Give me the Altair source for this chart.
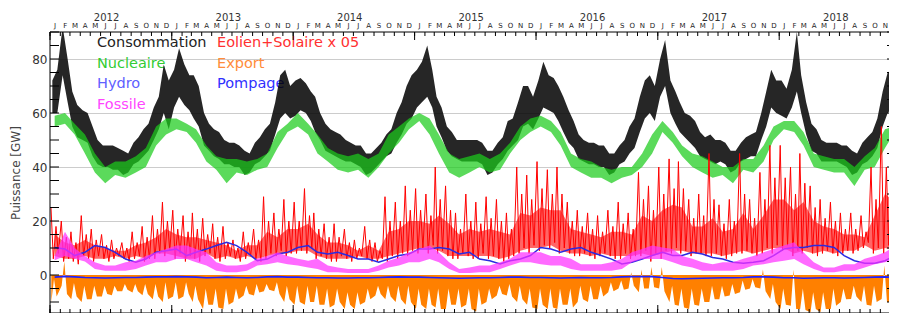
import altair as alt
import pandas as pd

# ---------------- data (GW) ----------------
# Consommation: half-month weekday highs / weekend lows (2012-01 .. 2018-12)
cons_hi = [72,76, 92,80, 68,63, 61,60, 55,50, 48,48, 48,47, 46,45, 49,51, 54,56, 62,66, 78,72,
           76,84, 78,74, 74,70, 60,56, 54,53, 50,49, 49,48, 46,45, 49,51, 54,56, 64,74, 76,70,
           72,73, 71,68, 66,60, 56,54, 53,52, 50,49, 48,48, 45,45, 47,49, 52,54, 60,64, 70,74,
           76,79, 85,76, 66,62, 55,53, 50,50, 50,50, 50,49, 46,46, 49,51, 57,58, 64,70, 70,66,
           72,79, 74,73, 70,66, 61,57, 52,50, 49,49, 48,48, 45,45, 48,50, 55,58, 66,72, 74,70,
           80,87, 72,68, 64,60, 59,57, 53,51, 52,50, 50,49, 46,46, 49,51, 52,53, 60,68, 76,72,
           72,69, 76,90, 74,64, 56,54, 50,49, 49,49, 48,48, 46,45, 49,51, 53,58, 68,75, 76,74]
cons_lo = [60,60, 74,64, 55,51, 50,49, 44,41, 40,40, 39,39, 37,38, 41,42, 44,46, 50,54, 60,54,
           62,66, 63,61, 58,55, 48,46, 44,43, 41,41, 40,40, 37,38, 41,42, 44,46, 52,58, 60,58,
           59,61, 60,57, 53,50, 46,45, 44,43, 42,42, 41,40, 37,38, 40,42, 44,45, 49,52, 56,58,
           62,64, 66,62, 55,51, 46,44, 43,42, 42,42, 42,41, 37,38, 41,43, 46,48, 50,55, 56,54,
           58,62, 61,60, 57,53, 49,47, 43,42, 41,41, 40,40, 37,38, 41,42, 45,47, 53,58, 60,57,
           66,70, 60,56, 53,51, 49,47, 44,43, 42,41, 42,41, 38,39, 42,43, 44,44, 50,55, 62,60,
           59,58, 62,68, 60,52, 46,45, 42,42, 42,42, 41,40, 37,38, 41,42, 44,47, 55,60, 62,62]

# Nucleaire: monthly band
nuc_hi = [59,60,56,52,45,40,42,42,44,47,55,58,
          58,56,54,48,44,43,43,42,43,45,53,56,
          60,56,52,47,45,44,45,43,45,52,55,58,
          60,58,52,45,43,44,45,43,45,49,55,58,
          59,57,53,45,43,42,40,39,40,40,45,52,
          57,53,48,45,44,42,40,40,43,43,48,55,
          57,57,53,45,44,43,43,40,44,47,54,55]
nuc_lo = [55,56,52,45,38,34,37,36,38,40,48,52,
          54,53,49,42,39,34,38,37,39,40,47,53,
          55,52,45,42,39,38,39,36,40,45,49,54,
          57,52,45,38,36,38,40,38,39,45,50,53,
          55,53,48,40,38,36,36,34,36,37,40,45,
          53,49,44,40,38,36,37,34,39,38,42,50,
          54,53,48,40,39,38,38,33,39,40,47,53]

# Eolien+Solaire x 0.5: per month two peaks and two troughs
eol_pk_a = [25,20,16,22,17,15,13,12,16,18,22,27,
            24,22,23,21,19,18,13,16,17,29,23,28,
            27,32,23,19,19,17,13,18,12,29,27,33,
            32,30,40,33,23,30,27,29,28,23,40,37,
            42,39,40,27,24,23,22,24,27,23,38,33,
            40,43,42,28,30,45,26,28,45,28,38,48,
            48,40,45,33,28,27,23,23,22,40,55,45]
eol_pk_b = [18,14,12,15,13,11,10,10,12,14,17,20,
            17,16,17,15,14,12,10,12,13,20,17,20,
            20,22,17,14,14,12,10,13,9,20,20,24,
            24,22,28,24,17,20,19,21,20,17,30,28,
            32,30,30,20,18,17,16,18,19,17,28,24,
            30,32,32,21,22,28,19,20,30,21,28,36,
            36,30,34,25,21,20,17,17,16,28,40,35]
eol_lo_a = [6,5,5,7,5,6,6,6,6,5,6,7,
            6,5,6,7,6,6,6,6,6,6,7,7,
            8,8,6,6,5,6,6,6,5,5,6,7,
            8,8,8,7,6,7,6,6,6,6,8,8,
            9,10,8,8,7,7,7,7,6,6,7,5,
            6,8,8,7,8,7,7,7,8,8,8,8,
            9,7,8,8,8,8,8,8,10,8,8,8]
eol_lo_b = [8,6,4,6,7,5,7,5,7,6,8,9,
            8,7,5,8,5,7,5,7,5,8,9,8,
            9,10,7,5,7,5,7,5,6,7,8,9,
            10,11,9,6,8,6,8,7,5,7,10,11,
            11,12,10,7,8,6,8,6,8,7,9,8,
            9,10,9,8,7,8,6,8,9,7,10,11,
            11,9,10,7,9,7,9,9,12,10,11,10]
# typical (dense) red range per month: lower / upper
eol_band_lo = [7,6,6,7,6,6,7,6,7,6,8,8,
               7,6,6,8,6,7,6,7,6,7,8,8,
               9,9,7,6,6,6,7,6,6,7,8,9,
               10,10,9,7,7,7,7,7,6,7,9,10,
               10,11,9,8,8,7,8,7,7,7,8,7,
               8,9,9,8,8,8,7,8,9,8,9,10,
               10,8,9,8,9,8,9,9,11,9,10,9]
eol_band_hi = [15,12,11,13,11,10,9,9,11,12,14,17,
               15,14,14,13,12,11,9,11,11,16,14,17,
               17,19,15,12,12,11,9,11,9,16,17,20,
               20,19,22,19,15,17,16,17,16,15,23,22,
               25,24,24,17,16,15,14,16,16,15,22,20,
               24,26,25,18,18,21,16,17,23,17,22,28,
               28,24,27,20,18,17,15,15,14,22,30,27]

# Hydro: monthly
hydro = [10.2,9.6,7.2,8.4,10.9,10.2,8.4,5.9,4.7,5.9,8.4,9.0,
         9.6,7.2,8.4,9.6,10.9,12.1,10.9,8.4,5.3,5.9,7.8,8.4,
         10.2,10.9,8.4,7.8,8.4,7.2,5.9,5.9,4.7,5.9,7.2,7.8,
         9.6,9.6,10.2,9.6,7.8,8.4,5.9,5.3,4.1,5.3,5.9,7.2,
         10.2,9.6,8.4,9.6,10.2,8.4,7.2,5.9,4.1,4.7,5.9,7.2,
         8.4,7.2,7.2,8.4,7.8,6.5,5.9,4.7,4.4,4.7,5.3,7.2,
         9.6,10.2,10.2,10.9,10.9,10.2,7.2,5.3,4.4,4.4,5.3,7.2]

# Fossile: monthly band
fos_hi = [7,16,10,7,4.7,3.5,3.5,4.7,5.3,7,8.4,9.6,
          10.9,10.9,9.6,8.4,4.7,3.5,3.5,4,6,7,8.4,7,
          6,5.3,6,3.5,2.8,2.2,2.2,2.2,3.5,5.3,6.5,8.4,
          9.6,10.9,8.4,4.7,2.2,2.8,3.5,3.5,4.7,6,8.4,8.4,
          8.4,7,7,6,4,4,4,4.7,6,8.4,9.6,10.9,
          10.2,9.6,7,6,4.7,4,4.7,4.7,6,7,8.4,9.6,
          10.9,12.1,8.4,4.7,2.8,2.8,4,4,6,7,8.4,10.9]
fos_lo = [5.5,7,6,5,2.2,1.6,1.6,1.6,2.2,3.5,4.7,4.7,
          5.9,5.9,4.7,3.5,1.6,1,1,1.6,3.5,4,4.7,4,
          3.5,2.8,2.2,1,1,0.7,0.7,0.7,1.6,2.8,3.5,4.7,
          4.7,5.9,4.7,2.2,0.7,0.7,1,1,2.2,3.5,4.7,4.7,
          4,3.5,3.5,2.2,1.6,1.6,1.6,1.6,2.2,4.7,5.9,5.9,
          5.9,4.7,3.5,2.8,1.6,1.6,1.6,1.6,2.2,3.5,4,4.7,
          5.3,5.9,4,2.2,1,1,1.6,1.6,2.8,4,4.7,5.9]

# Pompage: monthly (negative)
pompage = [-0.8,-0.5,-0.7,-0.9,-1.0,-1.1,-1.0,-0.9,-0.9,-0.8,-0.7,-0.7,
           -0.6,-0.7,-0.8,-1.0,-0.9,-0.8,-0.9,-1.0,-0.9,-0.7,-0.6,-0.8,
           -0.8,-0.9,-1.0,-1.0,-1.1,-1.1,-1.0,-1.0,-0.9,-0.8,-0.7,-0.8,
           -0.8,-0.9,-1.0,-1.1,-1.2,-1.1,-1.0,-1.0,-0.9,-0.8,-0.8,-0.9,
           -0.9,-1.0,-1.1,-1.0,-0.9,-1.0,-1.0,-0.9,-0.7,-0.6,-0.6,-0.6,
           -0.9,-1.3,-1.4,-1.3,-1.2,-1.1,-1.0,-1.0,-0.9,-0.7,-0.7,-0.8,
           -1.0,-1.0,-1.2,-1.1,-1.0,-1.0,-1.1,-1.0,-0.9,-0.8,-0.7,-0.9]

# Export (negative = net export): per month deepest values in each half and shallowest value
exp_a = [-10,-4,-9,-10,-9,-8,-7.5,-6,-6.5,-7.5,-9,-10,
         -8,-8,-10,-12.6,-11,-12.6,-10,-7.6,-7.6,-6,-6,-10,
         -11,-11,-10,-11,-11,-12.6,-12.6,-10,-7.6,-9,-10,-11,
         -12.6,-12.6,-12,-12.6,-11,-11,-13.5,-10,-7.6,-7.6,-10,-11,
         -12.6,-12.6,-12.6,-11,-10,-10,-9,-6.4,-5,-5,-6.4,-5,
         -5,-10,-11.4,-12.6,-11.4,-10,-9,-7.6,-6.4,-5,-5,-8.9,
         -12.6,-11.4,-12.6,-13.8,-13.8,-12.6,-10,-8.9,-10,-11.4,-8.9,-10]
exp_b = [-8,-7,-8,-9,-8,-7,-6,-5.5,-6,-7,-8,-9,
         -9,-7,-9,-11,-12,-11,-9,-7,-6.5,-5.5,-7,-9,
         -10,-10,-11,-12,-10,-11,-11,-9,-7,-8,-9,-10,
         -11,-11,-12.6,-11,-12,-12.6,-11,-9,-7,-8,-9,-12,
         -11,-12,-11,-12,-9,-9,-8,-6,-5.5,-4,-5,-4.5,
         -6,-11,-12,-11,-10,-9,-8,-7,-5.5,-4.5,-6,-10,
         -11,-12.6,-13,-12.6,-12.6,-11.4,-9,-8,-11,-10,-10,-9]
exp_top = [-1.5,5,-3,-4,-4,-4,-4,-3.3,-3.3,-3.3,-3.3,-2.7,
           -2.7,-2.7,-4,-5,-5,-5,-5,-4,-3.3,-3.3,-2.7,-4,
           -4,-4,-4,-5,-5,-6.4,-6.4,-5,-4,-4,-4,-4,
           -5,-5,-5,-5,-5,-5,-5,-5,-4,-3.3,-4,-5,
           -5,-5,-5,-5,-4,-4,-4,-2.7,-2,1,2,3,
           3,-4,-5,-5,-5,-4,-4,-3.3,-2,-1.5,2,-3.3,
           -5,2,-5,-6.4,-6.4,-5,-5,-4,-4,-4,3.5,-3]

# axis text
month_letters = ["J", "F", "M", "A", "M", "J", "J", "A", "S", "O", "N", "D"]
years = [2012, 2013, 2014, 2015, 2016, 2017, 2018]
ytick_vals = [-10, -5, 0, 5, 10, 15, 20, 25, 30, 35, 40, 45, 50, 55, 60, 65, 70, 75, 80, 85, 90]
ylabel_vals = [0, 20, 40, 60, 80]

# ---------------- build tables ----------------
BASE = pd.Timestamp("2012-01-01")
NM = 84
W, H = 839, 281
X_END = 2522


def day_of(i, d):
    ms = BASE + pd.DateOffset(months=i)
    return (ms - BASE).days + d - 1


cons_df = pd.DataFrame(
    [{"x": day_of(i, 8 if h == 0 else 23), "lo": cons_lo[2 * i + h], "hi": cons_hi[2 * i + h]}
     for i in range(NM) for h in (0, 1)])
nuc_df = pd.DataFrame([{"x": day_of(i, 15), "lo": nuc_lo[i], "hi": nuc_hi[i]} for i in range(NM)])
fos_df = pd.DataFrame([{"x": day_of(i, 15), "lo": fos_lo[i], "hi": fos_hi[i]} for i in range(NM)])
eolb_df = pd.DataFrame([{"x": day_of(i, 15), "lo": eol_band_lo[i], "hi": eol_band_hi[i]} for i in range(NM)])
hyd_df = pd.DataFrame([{"x": day_of(i, 15), "v": hydro[i]} for i in range(NM)])
pom_df = pd.DataFrame([{"x": day_of(i, 15), "v": pompage[i]} for i in range(NM)])
eol_rows = []
for i in range(NM):
    eol_rows += [{"x": day_of(i, 4), "v": eol_pk_a[i]}, {"x": day_of(i, 11), "v": eol_lo_a[i]},
                 {"x": day_of(i, 19), "v": eol_pk_b[i]}, {"x": day_of(i, 26), "v": eol_lo_b[i]}]
eol_df = pd.DataFrame(eol_rows)
exp_rows = []
for i in range(NM):
    exp_rows += [{"x": day_of(i, 5), "v": exp_a[i], "z": 0}, {"x": day_of(i, 13), "v": exp_top[i], "z": 0},
                 {"x": day_of(i, 21), "v": exp_b[i], "z": 0}]
exp_df = pd.DataFrame(exp_rows)

mtick_df = pd.DataFrame([{"x": day_of(i, 1)} for i in range(NM)])
ytick_df = pd.DataFrame([{"x": day_of(12 * k, 1)} for k in range(len(years))])
mlab_df = pd.DataFrame([{"x": day_of(i, 16), "t": month_letters[i % 12]} for i in range(NM)
                        if day_of(i, 16) <= X_END - 8])
ylab_df = pd.DataFrame([{"x": day_of(12 * k, 1) + 170, "t": str(y)} for k, y in enumerate(years)])
yt_df = pd.DataFrame({"v": ytick_vals})

# ---------------- chart ----------------
xs = alt.Scale(domain=[0, X_END], nice=False, zero=False)
ys = alt.Scale(domain=[-14.07, 90], nice=False, zero=False)
FONT = "DejaVu Sans"

yaxis = alt.Axis(values=ylabel_vals, title="Puissance [GW]", grid=True, gridColor="#cccccc",
                 gridWidth=1, ticks=False, domain=False, labelFontSize=12, labelColor="#333333",
                 labelPadding=3, labelFont=FONT, titleFont=FONT, titleFontSize=12,
                 titleColor="#444444", titleFontWeight="normal", titlePadding=9)


def X(f="x"):
    return alt.X(f"{f}:Q", scale=xs, axis=None)


def Y(f):
    return alt.Y(f"{f}:Q", scale=ys, axis=yaxis)


layers = []

# legend texts (drawn below the data)
legend = [("Consommation", 47, 11, "#222222"), ("Nucleaire", 47, 32, "#33cc33"),
          ("Hydro", 47, 52, "#6060ff"), ("Fossile", 47, 73, "#ff44ff"),
          ("Eolien+Solaire x 05", 167, 11, "#ff3030"), ("Export", 167, 32, "#ff8c3a"),
          ("Pompage", 167, 52, "#3030ff")]
for txt, px, py, col in legend:
    layers.append(alt.Chart(pd.DataFrame({"t": [txt]})).mark_text(
        align="left", baseline="middle", fontSize=14.5, font=FONT, color=col
    ).encode(x=alt.value(px), y=alt.value(py), text="t:N"))

cons = alt.Chart(cons_df).mark_area(color="#000000", opacity=0.85, clip=True).encode(
    x=X(), y=Y("lo"), y2="hi:Q")
nuc = alt.Chart(nuc_df).mark_area(color="#1ccc1c", opacity=0.72, clip=True).encode(
    x=X(), y=Y("lo"), y2="hi:Q")
eolb = alt.Chart(eolb_df).mark_area(color="#ff0000", opacity=0.6, clip=True).encode(
    x=X(), y=Y("lo"), y2="hi:Q")
eol = alt.Chart(eol_df).mark_line(color="#ff0000", strokeWidth=1, clip=True).encode(x=X(), y=Y("v"))
hyd = alt.Chart(hyd_df).mark_line(color="#2a2ae0", strokeWidth=1.5, clip=True).encode(x=X(), y=Y("v"))
fos = alt.Chart(fos_df).mark_area(color="#ff30ff", opacity=0.72, clip=True).encode(
    x=X(), y=Y("lo"), y2="hi:Q")
exp = alt.Chart(exp_df).mark_area(color="#ff8000", clip=True).encode(x=X(), y=Y("v"), y2="z:Q")
pom = alt.Chart(pom_df).mark_line(color="#2020ff", strokeWidth=1.6, clip=True).encode(x=X(), y=Y("v"))
layers += [cons, nuc, eolb, eol, hyd, fos, exp, pom]

# frame (left, top, bottom) and inward ticks
layers.append(alt.Chart(yt_df).mark_rule(color="#000", strokeWidth=1).encode(
    x=alt.value(0), x2=alt.value(9), y=Y("v")))
layers.append(alt.Chart(yt_df).mark_rule(color="#000", strokeWidth=1).encode(
    x=alt.value(W - 2), x2=alt.value(W), y=Y("v")))
layers.append(alt.Chart(mtick_df).mark_rule(color="#000", strokeWidth=1).encode(
    x=X(), y=alt.value(0), y2=alt.value(4)))
layers.append(alt.Chart(mtick_df).mark_rule(color="#000", strokeWidth=1).encode(
    x=X(), y=alt.value(H - 4), y2=alt.value(H)))
layers.append(alt.Chart(ytick_df).mark_rule(color="#000", strokeWidth=1).encode(
    x=X(), y=alt.value(0), y2=alt.value(8)))
layers.append(alt.Chart(ytick_df).mark_rule(color="#000", strokeWidth=1).encode(
    x=X(), y=alt.value(H - 8), y2=alt.value(H)))
layers.append(alt.Chart(pd.DataFrame({"a": [0]})).mark_rule(color="#000", strokeWidth=1).encode(
    x=alt.value(0), y=alt.value(0), y2=alt.value(H)))
layers.append(alt.Chart(pd.DataFrame({"a": [0]})).mark_rule(color="#000", strokeWidth=1).encode(
    x=alt.value(0), x2=alt.value(W), y=alt.value(0)))
layers.append(alt.Chart(pd.DataFrame({"a": [0]})).mark_rule(color="#000", strokeWidth=1).encode(
    x=alt.value(0), x2=alt.value(W), y=alt.value(H)))

# top labels
layers.append(alt.Chart(mlab_df).mark_text(fontSize=7, font=FONT, color="#222222",
                                           baseline="alphabetic", align="center").encode(
    x=X(), y=alt.value(-4), text="t:N"))
layers.append(alt.Chart(ylab_df).mark_text(fontSize=10, font=FONT, color="#333333",
                                           baseline="alphabetic", align="center").encode(
    x=X(), y=alt.value(-11), text="t:N"))

chart = alt.layer(*layers).properties(
    width=W, height=H,
    autosize=alt.AutoSizeParams(type="none"),
    padding={"left": 42, "top": 24, "right": 0, "bottom": 0},
).configure_view(stroke=None)

chart.save("out.html", embed_options={"renderer": "svg", "actions": False})
